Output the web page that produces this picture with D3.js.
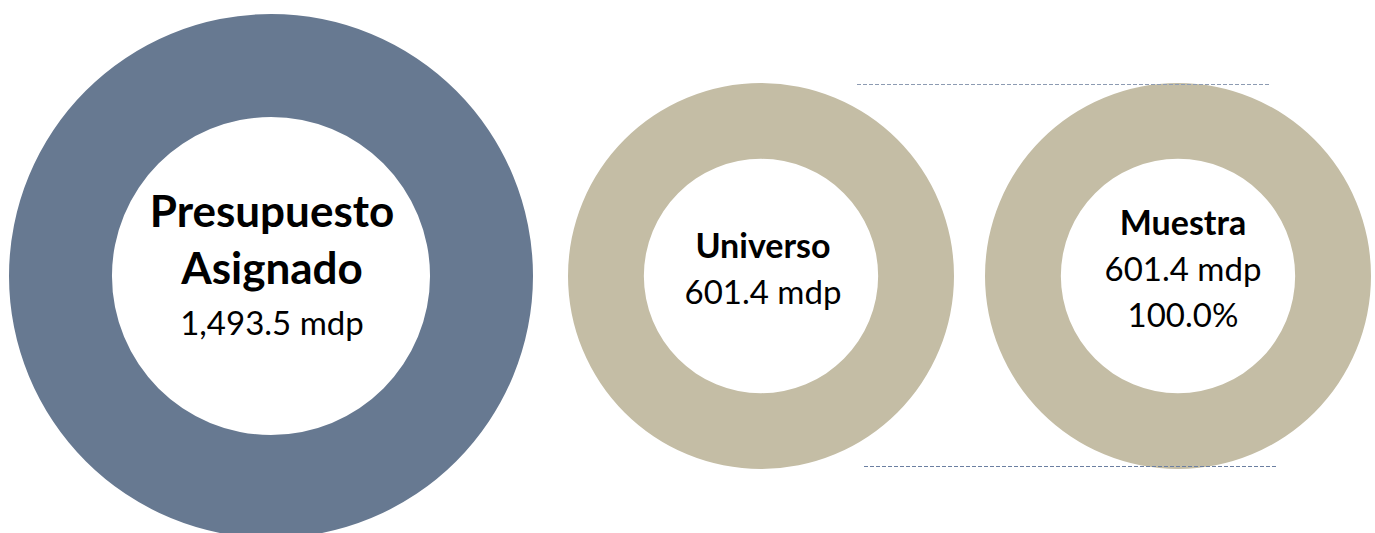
<!DOCTYPE html>
<html lang="es">
<head>
<meta charset="UTF-8">
<title>Presupuesto, universo y muestra</title>
<script src="https://d3js.org/d3.v7.min.js"></script>
<style>
  html, body { margin: 0; padding: 0; background: #fff; }
  svg text { font-family: Lato, "Open Sans", sans-serif; fill: #000; }
</style>
</head>
<body>
<div id="chart"></div>
<script>
  // datos
  const titles = [["Presupuesto", "Asignado"], ["Universo"], ["Muestra"]];
  const values = [1493.5, 601.4, 601.4];
  const shares = [null, null, 100.0];
  const colors = ["#677991", "#C4BDA5", "#C4BDA5"];

  const width = 1375, height = 533;
  const centersX = [271, 761, 1178];
  const cy = 276;

  const svg = d3.select("#chart").append("svg")
    .attr("width", width)
    .attr("height", height);

  // radio exterior según el monto
  const rScale = d3.scaleLinear()
    .domain([d3.min(values), d3.max(values)])
    .range([193, 262]);
  const innerRatio = 0.607;

  const fmt = d3.format(",.1f");

  const arc = d3.arc().startAngle(0).endAngle(2 * Math.PI);

  const g = svg.selectAll(".donut")
    .data(values.map((v, i) => ({ v, i })))
    .enter().append("g")
    .attr("class", "donut")
    .attr("transform", d => `translate(${centersX[d.i]},${cy})`);

  g.append("path")
    .attr("fill", d => colors[d.i])
    .attr("d", d => {
      const r = rScale(d.v);
      return arc({ innerRadius: r * innerRatio, outerRadius: r });
    });

  // textos centrales
  g.each(function(d) {
    const big = d.i === 0;
    const lines = titles[d.i].map(t => ({ t, bold: true }));
    lines.push({ t: fmt(d.v) + " mdp", bold: false });
    if (shares[d.i] != null) lines.push({ t: d3.format(".1f")(shares[d.i]) + "%", bold: false });

    const gapBold = big ? 57 : 46, gapReg = big ? 51 : 46;
    const ys = [0];
    for (let k = 1; k < lines.length; k++) {
      ys.push(ys[k - 1] + (lines[k - 1].bold && lines[k].bold ? gapBold : gapReg));
    }
    const shift = 5 - ys[ys.length - 1] / 2;

    d3.select(this).selectAll("text")
      .data(lines)
      .enter().append("text")
      .attr("x", d.i === 0 ? 1 : (d.i === 1 ? 2 : 5))
      .attr("y", (l, k) => ys[k] + shift)
      .attr("text-anchor", "middle")
      .style("font-weight", l => l.bold ? 700 : 400)
      .style("font-size", l => l.bold ? (big ? "44px" : "34px") : "33px")
      .text(l => l.t);
  });

  // líneas guía punteadas
  const guides = [
    { x1: 857, x2: 1271, y: 84, c: "#8D9BB2" },
    { x1: 864, x2: 1278, y: 466, c: "#6B7FA1" }
  ];
  svg.selectAll(".guide")
    .data(guides)
    .enter().append("line")
    .attr("class", "guide")
    .attr("x1", d => d.x1).attr("x2", d => d.x2)
    .attr("y1", d => d.y + 0.5).attr("y2", d => d.y + 0.5)
    .attr("stroke", d => d.c)
    .attr("stroke-width", 1)
    .attr("stroke-dasharray", "4,2");
</script>
</body>
</html>
